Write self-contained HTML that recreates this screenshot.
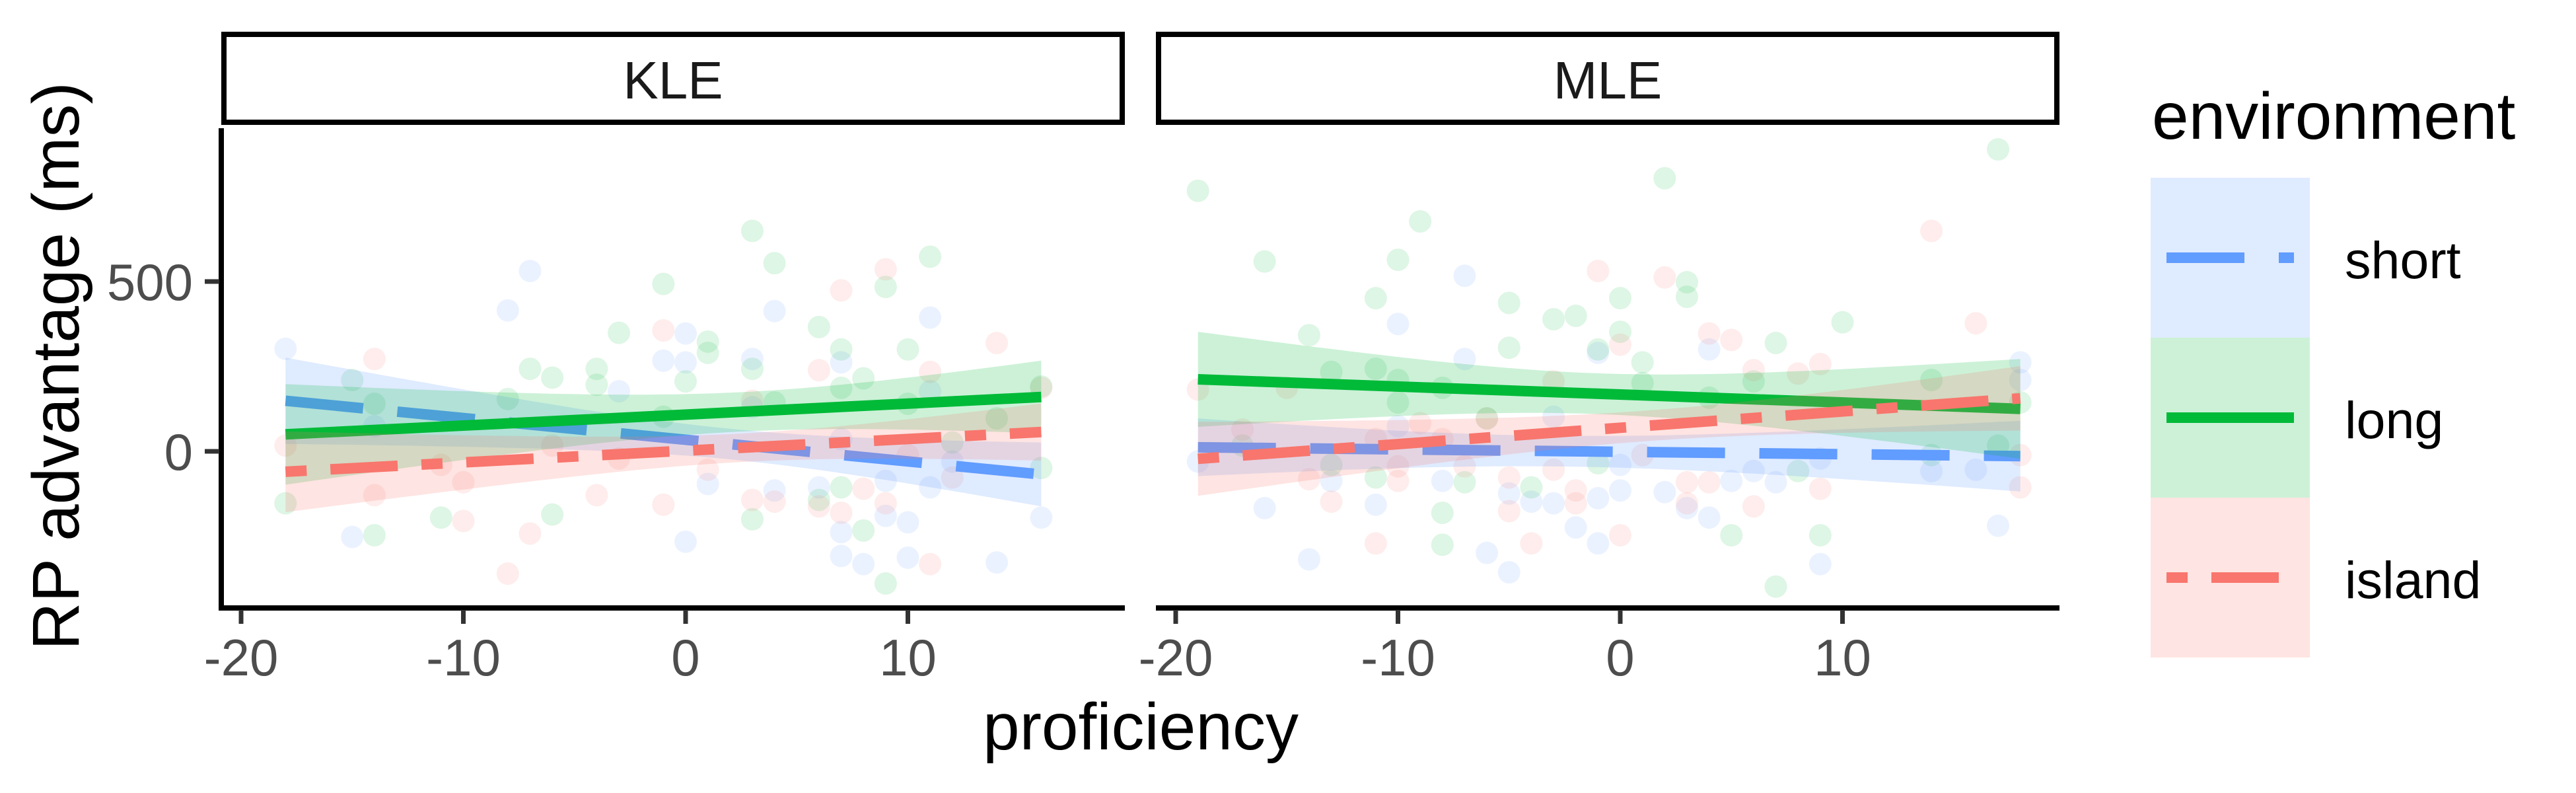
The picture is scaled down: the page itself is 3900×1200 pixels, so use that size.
<!DOCTYPE html>
<html><head><meta charset="utf-8"><style>
html,body{margin:0;padding:0;background:#fff;}
svg{display:block;font-family:"Liberation Sans",Arial,sans-serif;}
</style></head><body>
<svg id="chart" width="3900" height="1200" viewBox="0 0 3900 1200" xmlns="http://www.w3.org/2000/svg">
<g id="panels"></g>
<g id="axes"></g>
<text x="0" y="0" transform="translate(119,554) rotate(-90)" text-anchor="middle" font-size="100" fill="#000">RP advantage (ms)</text>
<text x="1727" y="1134" text-anchor="middle" font-size="100" fill="#000">proficiency</text>
<g id="legend">
<text x="3258" y="210" font-size="100" fill="#000">environment</text>
</g>
</svg>
<script>
// ---- data ----
const facets = ["KLE", "MLE"];
const groups = ["short", "long", "island"];
const xTicks = [-20, -10, 0, 10];
const yTicks = [0, 500];
const kleShortX = [-18,-7,-8,0,-1,0,-3,3,4,7,11,16,14,10,7,8,9,10,7,0,-15,1,4,11,-14,6,9,12,7,3,11];
const kleShortY = [302,531,415,347,267,262,177,272,413,262,394,-195,-327,-313,-308,-332,-190,-209,-238,-266,-252,-96,-115,-106,74,-106,-87,-30,36,130,177];
const kleLongX = [3,4,-1,11,9,-3,1,1,6,7,10,-7,-6,-4,-4,0,3,8,7,-15,-14,-8,4,10,16,14,16,-18,-14,-11,-6,3,8,9,6,7,-1,12];
const kleLongY = [649,554,493,573,484,349,323,290,366,300,300,243,217,243,196,206,243,215,187,210,140,154,144,140,191,97,-49,-153,-247,-195,-186,-200,-233,-389,-143,-106,102,26];
const kleIslandX = [-14,-1,7,9,14,11,6,16,-18,3,-6,-3,-11,-10,-4,-14,-10,-7,-1,3,4,6,7,8,9,11,-8,1,12,10];
const kleIslandY = [272,356,474,536,319,234,239,187,17,149,17,-21,-40,-91,-129,-129,-205,-242,-157,-143,-148,-162,-181,-110,-153,-332,-360,-54,-77,-11];
const mleShortX = [-7,-10,-7,4,-1,-19,-16,-14,-11,-10,-13,-8,-6,-5,-5,-4,-3,-2,-1,-1,0,0,2,3,4,5,6,7,9,9,14,16,17,18,18,-3];
const mleShortY = [517,375,272,300,290,-30,-167,-318,-157,74,-87,-87,-299,-356,-124,-148,-153,-224,-271,-138,-115,-40,-120,-167,-195,-87,-58,-91,-332,-21,-58,-54,-219,262,210,102];
const mleLongX = [-19,2,17,-9,-16,-10,-11,-5,-3,-2,0,3,3,10,-14,-5,0,-1,1,7,14,6,-11,-13,-10,-8,-10,18,-6,1,4,-17,-13,-11,-8,-8,-7,-4,5,8,9,7,14,17,-1];
const mleLongY = [767,804,889,677,559,564,451,437,389,399,451,498,455,380,342,305,352,300,262,319,210,206,243,234,210,187,144,144,97,201,158,17,-40,-77,-181,-275,-91,-106,-247,-58,-247,-398,-11,17,-35];
const mleIslandX = [-19,14,16,-1,2,5,0,4,9,8,6,-3,-15,-9,-8,-17,-11,-6,-14,-10,-10,-13,-7,-5,-3,-2,-2,-5,-11,-4,0,3,3,4,6,9,18,18,1];
const mleIslandY = [182,649,377,531,512,328,314,347,257,229,239,206,187,83,36,64,36,97,-82,-87,-44,-148,-44,-77,-54,-115,-153,-176,-271,-271,-247,-91,-153,-91,-162,-110,-11,-106,-11];
const kleFitX0 = [-18,-18,-18], kleFitX1 = [16,16,16];
const kleFitY0 = [149,50,-60], kleFitY1 = [-68,160,57];
const mleFitX0 = [-19,-19,-19], mleFitX1 = [18,18,18];
const mleFitY0 = [12,212,-22], mleFitY1 = [-14,125,156];
const kleBandL = [127,148,119], kleBandMin = [45,58,42], kleBandR = [94,107,84];
const mleBandL = [85,140,109], mleBandMin = [45,60,45], mleBandR = [104,147,95];

// ---- layout ----
const NS = "http://www.w3.org/2000/svg";
const colors = {short:"#619CFF", long:"#00BA38", island:"#F8766D"};
const dashes = {short:"118 52", long:"none", island:"32 36 102 36"};
const panelLeft = [335, 1750], panelW = 1368;
const xUnit = 33.65;
function xScale(p, v){ return panelLeft[p] + 30 + (v + 20) * xUnit; }
function yScale(v){ return 683 - v * 0.514; }
function mk(tag, attrs, parent){ const e = document.createElementNS(NS, tag); for (const k in attrs) e.setAttribute(k, attrs[k]); parent.appendChild(e); return e; }

const panelsG = document.getElementById("panels");
const axesG = document.getElementById("axes");
const ptsData = [[[kleShortX,kleShortY],[kleLongX,kleLongY],[kleIslandX,kleIslandY]],[[mleShortX,mleShortY],[mleLongX,mleLongY],[mleIslandX,mleIslandY]]];
const fits = [[kleFitX0,kleFitX1,kleFitY0,kleFitY1,kleBandL,kleBandMin,kleBandR],[mleFitX0,mleFitX1,mleFitY0,mleFitY1,mleBandL,mleBandMin,mleBandR]];

facets.forEach((f, p) => {
  const g = mk("g", {}, panelsG);
  
  
  const strip = mk("rect", {x: panelLeft[p]+4, y: 52, width: panelW-8, height: 133, fill:"#fff", stroke:"#000", "stroke-width":8}, g);
  
  
  const st = mk("text", {x: panelLeft[p] + panelW/2, y: 149, "text-anchor":"middle", "font-size":80, fill:"#1A1A1A"}, g);
  st.textContent = f;
  
  
  groups.forEach((grp, gi) => {
    const [xs, ys] = ptsData[p][gi];
    xs.forEach((xv, i) => {
      const c = mk("circle", {cx: xScale(p, xv), cy: yScale(ys[i]), r: 17, fill: colors[grp], "fill-opacity": 0.13}, g);
      
      
    });
  });
  const [X0, X1, Y0, Y1, BL, BM, BR] = fits[p];
  groups.forEach((grp, gi) => {
    const x0 = X0[gi], x1 = X1[gi];
    const L = BL[gi], M = Math.min(BM[gi], L-1, BR[gi]-1), R = BR[gi];
    const r = Math.sqrt((L*L - M*M) / (R*R - M*M));
    const m = (x0 + r * x1) / (1 + r);
    const k = Math.sqrt(L*L - M*M) / (m - x0);
    const fy = x => Y0[gi] + (Y1[gi] - Y0[gi]) * (x - x0) / (x1 - x0);
    const hw = x => Math.sqrt(M*M + k*k*(x-m)*(x-m));
    let up = [], lo = [];
    const N = 60;
    for (let i = 0; i <= N; i++) {
      const x = x0 + (x1 - x0) * i / N;
      up.push(xScale(p, x).toFixed(1) + "," + yScale(fy(x) + hw(x)).toFixed(1));
      lo.unshift(xScale(p, x).toFixed(1) + "," + yScale(fy(x) - hw(x)).toFixed(1));
    }
    const band = mk("polygon", {points: up.concat(lo).join(" "), fill: colors[grp], "fill-opacity": 0.2}, g);
    
    
    const ln = mk("line", {x1: xScale(p, x0), y1: yScale(Y0[gi]), x2: xScale(p, x1), y2: yScale(Y1[gi]), stroke: colors[grp], "stroke-width": 16, "stroke-dasharray": dashes[grp]}, g);
    
    
  });
  const ax = mk("line", {x1: panelLeft[p] - (p===0?4:0), y1: 920, x2: panelLeft[p] + panelW, y2: 920, stroke:"#000", "stroke-width":8}, axesG);
  
  
  xTicks.forEach(t => {
    const tk = mk("line", {x1: xScale(p, t), y1: 923, x2: xScale(p, t), y2: 944, stroke:"#333", "stroke-width":7}, axesG);
    
    
    const tl = mk("text", {x: xScale(p, t), y: 1022, "text-anchor":"middle", "font-size":78, fill:"#4D4D4D"}, axesG);
    tl.textContent = t;
    
    
  });
});
const yax = mk("line", {x1: 335, y1: 194, x2: 335, y2: 924, stroke:"#000", "stroke-width":8}, axesG);


yTicks.forEach(t => {
  const tk = mk("line", {x1: 310, y1: yScale(t), x2: 332, y2: yScale(t), stroke:"#333", "stroke-width":7}, axesG);
  
  
  const tl = mk("text", {x: 292, y: yScale(t) + 28, "text-anchor":"end", "font-size":78, fill:"#4D4D4D"}, axesG);
  tl.textContent = t;
  
  
});
const legG = document.getElementById("legend");
groups.forEach((grp, gi) => {
  const top = 269 + gi * 242;
  const kg = mk("g", {}, legG);
  
  
  mk("rect", {x: 3256, y: top, width: 241, height: 242, fill: colors[grp], "fill-opacity": 0.2}, kg);
  mk("line", {x1: 3280, y1: top + 121, x2: 3473, y2: top + 121, stroke: colors[grp], "stroke-width": 16, "stroke-dasharray": dashes[grp]}, kg);
  const lt = mk("text", {x: 3550, y: top + 152, "font-size": 79, fill: "#000"}, kg);
  lt.textContent = grp;
});
</script>
</body></html>
